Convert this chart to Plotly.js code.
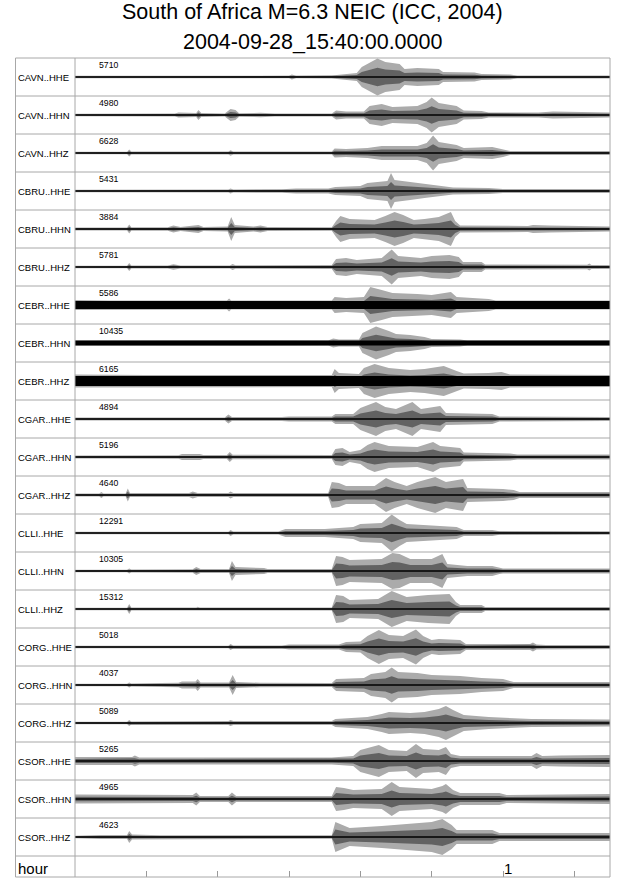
<!DOCTYPE html>
<html><head><meta charset="utf-8">
<script src="https://cdn.plot.ly/plotly-3.0.1.min.js"></script>
<style>html,body{margin:0;padding:0;background:#fff}#chart{width:640px;height:878px}</style>
</head><body><div id="chart"></div>
<script>
// ---------- data ----------
const stations = ["CAVN..HHE","CAVN..HHN","CAVN..HHZ","CBRU..HHE","CBRU..HHN","CBRU..HHZ",
  "CEBR..HHE","CEBR..HHN","CEBR..HHZ","CGAR..HHE","CGAR..HHN","CGAR..HHZ",
  "CLLI..HHE","CLLI..HHN","CLLI..HHZ","CORG..HHE","CORG..HHN","CORG..HHZ",
  "CSOR..HHE","CSOR..HHN","CSOR..HHZ"];
const peakCounts = [5710,4980,6628,5431,3884,5781,5586,10435,6165,4894,5196,4640,
  12291,10305,15312,5018,4037,5089,5265,4965,4623];
// envelope of each trace: [minutes after 15:40:00, half amplitude (relative units)]
const CAVN_HHE = [[0,1.2],[20,1.2],[21.5,1.8],[23,1.2],[30,1.3],[30.4,2.5],[31,1.3],[36,1.6],[37.3,2.5],[39.5,4],[40.2,10],[41.5,15],[42.4,18.5],[43.5,15],[45.5,13],[46.2,8],[48,9],[51,8],[51.6,5],[56,4.5],[57,3],[61,2.5],[62,1.5],[75,1.5]];
const CAVN_HHN = [[0,1.2],[10,1.3],[14,1.6],[14.5,2.5],[17,2],[17.3,5],[17.7,2],[21,1.5],[21.8,6],[22.5,5],[23,1.8],[26,2.2],[28,1.6],[36,1.6],[36.6,4.5],[38,3.5],[40.5,3.5],[41.3,9],[43,11],[44.5,8],[48,9],[49.3,13],[50,17.5],[51,12],[53.5,9],[54.5,4.5],[57,4],[58,2.5],[65,2.5],[67,3.5],[71,3],[75,2.5]];
const CAVN_HHZ = [[0,1.2],[7.3,1.3],[7.6,3.5],[7.9,1.4],[21.5,1.5],[21.8,2.8],[22.2,1.5],[36,1.5],[36.4,4.5],[38,4],[41,5],[43,7],[48,7],[49.3,10],[50.2,17.5],[51,11],[53.5,8],[54.5,5],[58.5,6],[60,4],[61,2],[75,2]];
const CBRU_HHE = [[0,1.2],[12,1.2],[14,1.6],[21.5,1.6],[21.8,2.5],[22.2,1.6],[29,1.8],[31,2.5],[35.5,2.5],[36.5,4],[40,5],[41,8],[43.8,10],[44.3,18],[44.8,11],[47,9],[49,7],[51,5],[53,3.5],[58,3],[60,2],[75,2]];
const CBRU_HHN = [[0,1.5],[7.3,1.5],[7.6,4.5],[7.9,1.8],[13,1.8],[13.8,3.5],[14.8,2],[16.7,3.5],[17.3,4],[18,2],[21.4,2.5],[21.9,12],[22.4,4],[25,2.5],[26,3.5],[27,2],[36,1.8],[36.6,8],[37.2,13],[38.5,10],[42,9],[43.5,13],[44.8,17],[46,14],[47.5,9],[49,10],[51,12],[52.7,17],[53.3,8],[54,3.5],[63.5,3],[64.2,4],[66.5,3.5],[75,2.5]];
const CBRU_HHZ = [[0,1.2],[7.3,1.3],[7.6,4],[7.9,1.5],[13,1.5],[13.8,2.8],[14.8,1.5],[21.7,1.6],[22.1,3],[22.5,1.8],[36,2],[36.6,8],[38,9],[39.5,7],[43,9],[44.4,17.5],[45.3,11],[48.5,9],[50,11],[52.5,12],[53.8,10],[54.4,5],[57,5],[57.5,2.5],[71.8,2.2],[72.1,3.5],[72.4,2],[75,2]];
const CEBR_HHE = [[0,5],[5,4.5],[21.3,4.5],[21.6,6.5],[21.9,4.5],[36,4.5],[36.4,8],[38,7],[40.5,8],[41.4,18],[43,15],[44.5,12],[48,11],[50,10],[52.7,13],[53.5,8],[58,6],[59,4.5],[75,4.5]];
const CEBR_HHN = [[0,2.5],[14,2.8],[22,2.8],[35.5,2.5],[36.2,4.5],[37,3.5],[39.8,3.5],[40.3,10],[42.2,16.5],[44,12],[45,9],[47,8],[49,6],[50,4],[54,3.5],[55,2.5],[75,2.5]];
const CEBR_HHZ = [[0,6.5],[10,6],[36,6],[36.4,12],[37,8],[39.8,7],[40.5,13],[42,17],[44,13],[47,11],[49,12],[51.7,15],[53.5,10],[54.5,7.5],[58,8],[59.8,9],[61,6.5],[75,6]];
const CGAR_HHE = [[0,1.5],[21,1.5],[21.5,4.5],[22,2],[29,2],[30,2.5],[36,2.5],[36.5,5],[39,5],[40,11],[42.2,17],[43.5,12],[45,10],[47.3,17],[48.5,10],[51.2,13],[52,6],[58.5,5],[59.5,2.5],[75,2]];
const CGAR_HHN = [[0,1.5],[14.5,1.8],[15,3],[17.5,3],[18,2],[21.3,2],[21.7,5],[22.1,2.2],[36,2],[36.5,8],[37.5,9],[38.5,5],[40,7],[41,12],[42,15],[44,11],[48,10],[49,12],[50.2,15],[51.2,11],[54,9],[54.5,4.5],[61,3.5],[62,2.5],[75,2.5]];
const CGAR_HHZ = [[0,1.5],[3.4,1.5],[3.7,3],[4,1.5],[7.1,1.6],[7.4,6.5],[7.7,2],[16,2],[16.5,3.5],[17.2,2],[21.5,2],[21.8,3.5],[22.2,2],[35.5,2],[36,13],[37,12],[38,9],[42,9],[43.6,17],[44.8,13],[46.5,9],[48,13],[50.5,18],[52,13],[54.4,16],[55,7],[60,6],[61.5,5],[62.3,3],[75,3]];
const CLLI_HHE = [[0,1.2],[21.5,1.2],[21.8,3],[22.2,1.5],[28.5,1.5],[29.5,4],[35,4],[36.5,5],[39,6],[40,9],[43,10],[44.4,18.5],[45.5,13],[46.5,9],[49,8],[53.5,6],[54.5,3],[58.5,3],[59.5,1.8],[75,1.8]];
const CLLI_HHN = [[0,1.3],[7.3,1.3],[7.6,2.5],[7.9,1.5],[16.5,1.8],[17,4],[17.6,2],[21.6,2],[22,10],[22.5,4],[26.5,3],[27,2],[36,2],[36.6,15],[37.5,14],[38.5,11],[43,12],[44.5,18],[45.5,17],[47,12],[50,12],[51.5,17],[52.2,7],[55,5],[58.5,5],[59.5,3],[60,2.5],[75,2.5]];
const CLLI_HHZ = [[0,1.2],[7.3,1.2],[7.6,5],[7.9,1.5],[17,1.5],[17.2,2.2],[17.5,1.5],[22,1.5],[22.2,2.2],[22.5,1.5],[36,1.5],[36.6,14],[37.6,13],[38.5,9],[42.5,10],[44.4,18],[45.5,15],[46.5,12],[49.5,14],[52.5,15],[53.4,7],[54,4],[57,4],[57.5,2],[75,2]];
const CORG_HHE = [[0,1.2],[21.5,1.2],[21.8,3],[22.2,1.5],[29,1.5],[30,2.5],[37,2.5],[38,5],[40,5.5],[41,11],[42.6,17],[44,12],[46,11],[47.8,17.5],[48.8,11],[50,7],[51,8],[54,7],[54.8,3],[63.8,3],[64.2,4.5],[64.7,2.5],[66,2],[75,2]];
const CORG_HHN = [[0,1.2],[7.3,1.3],[7.6,2.5],[7.9,1.5],[12,2],[14.5,2.2],[15,3.5],[16.9,3.5],[17.2,6],[17.6,2.5],[21.6,2.5],[22.1,10],[22.6,3],[26,2.2],[36,2],[36.6,6],[40.5,7],[41.5,11],[43.5,13],[44.4,17.5],[45.3,13],[48,12],[50,10],[54,9],[57,7],[60,6],[61.5,3],[75,3]];
const CORG_HHZ = [[0,1.3],[7.3,1.3],[7.6,3],[7.9,1.6],[21.5,2],[21.8,3],[22.2,2],[36,2],[36.5,4],[41,6],[43,9],[44,11],[47,10],[49,11],[51,14],[52,17],[53,13],[54.5,8],[58,6],[61,5],[64,4],[75,3.5]];
const CSOR_HHE = [[0,4],[8,4],[8.4,5.5],[9,3.5],[36,3.5],[37.5,4.5],[39,5],[40,11],[42.6,16],[44,11],[46.5,10],[47.8,17],[48.8,12],[51,11],[52,14],[52.7,7],[54,5],[64,5],[64.7,8],[65.5,5],[68,5.5],[75,6]];
const CSOR_HHN = [[0,4.5],[10,4],[16.5,4],[17,6.5],[17.5,3],[21.5,3],[22,6.5],[22.6,3],[36,3],[36.6,12],[37.7,11],[39,9],[43,10],[44.4,17],[45.5,12],[50,10],[51.5,13],[52,15],[53,9],[54,6],[59.5,6],[60.5,4],[75,5]];
const CSOR_HHZ = [[0,1.3],[3.5,2],[7.3,2],[7.6,6],[8,2.5],[10,2.2],[12,1.8],[36,1.8],[36.5,15],[37.5,12],[38.5,9],[43,11],[45,12],[47,13],[50,15],[51.5,18],[52.8,12],[53.5,7],[58.5,7],[59.5,4],[75,4]];
const envelopes = [CAVN_HHE,CAVN_HHN,CAVN_HHZ,CBRU_HHE,CBRU_HHN,CBRU_HHZ,CEBR_HHE,CEBR_HHN,CEBR_HHZ,
  CGAR_HHE,CGAR_HHN,CGAR_HHZ,CLLI_HHE,CLLI_HHN,CLLI_HHZ,CORG_HHE,CORG_HHN,CORG_HHZ,CSOR_HHE,CSOR_HHN,CSOR_HHZ];
const hourTicks = [10,20,30,40,50,60,70];       // minutes
const hourTickLabels = {60: "1"};               // hours
const titleLines = ["South of Africa M=6.3 NEIC (ICC, 2004)", "2004-09-28_15:40:00.0000"];

// ---------- drawing ----------
const ROW_PX = 38, HOUR_PX = 21, nRows = stations.length;
const yMax = nRows + HOUR_PX / ROW_PX;
const coreCap = stations.map(s => s === "CEBR..HHE" ? 4 : s === "CEBR..HHZ" ? 5 : s === "CEBR..HHN" ? 2.4 : 0.75);
const FONT = "Liberation Sans, Arial, Helvetica, sans-serif";
const labelX = (16 - 75) / 535, frameX = (15.5 - 75) / 535;

function band(env, c, capFn, color) {
  const ts = env.map(p => p[0]);
  const up = env.map(p => c - capFn(p[1]) / ROW_PX);
  const lo = env.map(p => c + capFn(p[1]) / ROW_PX);
  return {x: ts.concat(ts.slice().reverse()), y: up.concat(lo.slice().reverse()),
    type: 'scatter', mode: 'lines', fill: 'toself', fillcolor: color,
    line: {width: 0}, hoverinfo: 'skip', showlegend: false};
}
const data = [];
envelopes.forEach((env, i) => {
  const c = i + 0.5;
  data.push(band(env, c, a => a, '#ababab'));
  data.push(band(env, c, a => a * 0.5, '#626262'));
  data.push(band(env, c, a => Math.min(a, coreCap[i]), '#000'));
});

const annotations = [];
stations.forEach((s, i) => {
  annotations.push({xref: 'paper', yref: 'y', x: labelX, y: i + 0.5, text: s, showarrow: false,
    xanchor: 'left', yanchor: 'middle', font: {family: FONT, size: 9.5, color: '#000'}});
  annotations.push({xref: 'paper', yref: 'y', x: 22 / 535, y: i + 7 / ROW_PX, text: String(peakCounts[i]),
    showarrow: false, xanchor: 'left', yanchor: 'middle', font: {family: FONT, size: 8.7, color: '#000'}});
});
annotations.push({xref: 'paper', yref: 'y', x: labelX, y: nRows + 12 / ROW_PX, text: 'hour', showarrow: false,
  xanchor: 'left', yanchor: 'middle', font: {family: FONT, size: 15, color: '#000'}});
hourTicks.forEach(t => {
  if (hourTickLabels[t]) annotations.push({xref: 'x', yref: 'y', x: t, y: nRows + 12 / ROW_PX, text: hourTickLabels[t],
    showarrow: false, xanchor: 'left', yanchor: 'middle', xshift: -1, font: {family: FONT, size: 15, color: '#000'}});
});
annotations.push({xref: 'paper', yref: 'paper', x: (312 - 75) / 535, y: (877 - 12.5) / 819, text: titleLines[0],
  showarrow: false, xanchor: 'center', yanchor: 'middle', font: {family: FONT, size: 21.5, color: '#000'}});
annotations.push({xref: 'paper', yref: 'paper', x: (312 - 75) / 535, y: (877 - 41.5) / 819, text: titleLines[1],
  showarrow: false, xanchor: 'center', yanchor: 'middle', font: {family: FONT, size: 21.5, color: '#000'}});

const GRID = '#a8a8a8';
const shapes = [];
for (let k = 1; k <= nRows; k++) shapes.push({type: 'line', xref: 'paper', yref: 'y', x0: frameX, x1: 1, y0: k, y1: k, line: {color: GRID, width: 1}});
shapes.push({type: 'line', xref: 'paper', yref: 'paper', x0: 0, x1: 0, y0: 0, y1: 1, line: {color: GRID, width: 1}});
shapes.push({type: 'rect', xref: 'paper', yref: 'paper', x0: frameX, x1: 1, y0: 0, y1: 1, line: {color: GRID, width: 1}});

const layout = {
  width: 640, height: 878, margin: {l: 75, r: 30, t: 58, b: 1, pad: 0},
  paper_bgcolor: '#fff', plot_bgcolor: '#fff', showlegend: false,
  xaxis: {range: [0, 75], showgrid: false, zeroline: false, showline: false, ticks: 'inside', ticklen: 6,
    tickwidth: 1, tickcolor: '#999', tickvals: hourTicks, showticklabels: false, fixedrange: true},
  yaxis: {range: [yMax, 0], showgrid: false, zeroline: false, showline: false, showticklabels: false, ticks: '', fixedrange: true},
  annotations, shapes
};
Plotly.newPlot('chart', data, layout, {staticPlot: true, displayModeBar: false});
</script></body></html>
